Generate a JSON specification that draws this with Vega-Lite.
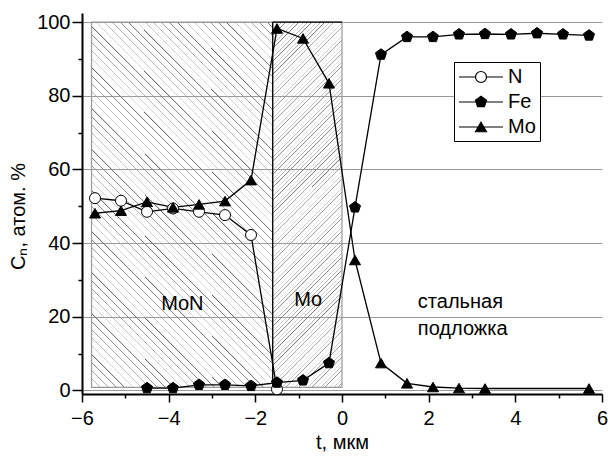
{
"$schema": "https://vega.github.io/schema/vega-lite/v6.json",
"width": 520, "height": 381,
"autosize": {"type": "none"},
"padding": {"left": 82, "top": 13, "right": 6, "bottom": 65},
"background": "white",
"config": {
  "view": {"stroke": null},
  "font": "Liberation Sans",
  "axis": {"labelFont": "Liberation Sans", "labelFontSize": 20, "labelColor": "black", "titleFont": "Liberation Sans", "titleFontSize": 20, "titleFontWeight": "normal", "titleColor": "black", "domainColor": "black", "domainWidth": 2, "tickColor": "black", "tickWidth": 1.5, "gridColor": "#999", "gridWidth": 1, "labelOverlap": false, "labelFlush": false}
},
"datasets": {
  "pts": [
    {"el":"N","t":-5.7,"c":52.2},{"el":"N","t":-5.1,"c":51.5},{"el":"N","t":-4.5,"c":48.5},{"el":"N","t":-3.9,"c":49.4},{"el":"N","t":-3.3,"c":48.5},{"el":"N","t":-2.7,"c":47.6},{"el":"N","t":-2.1,"c":42.2},{"el":"N","t":-1.5,"c":0.3},
    {"el":"Fe","t":-4.5,"c":0.6},{"el":"Fe","t":-3.9,"c":0.6},{"el":"Fe","t":-3.3,"c":1.5},{"el":"Fe","t":-2.7,"c":1.5},{"el":"Fe","t":-2.1,"c":1.2},{"el":"Fe","t":-1.5,"c":2.1},{"el":"Fe","t":-0.9,"c":2.7},{"el":"Fe","t":-0.3,"c":7.4},{"el":"Fe","t":0.3,"c":49.7},{"el":"Fe","t":0.9,"c":91.2},{"el":"Fe","t":1.5,"c":96.0},{"el":"Fe","t":2.1,"c":96.0},{"el":"Fe","t":2.7,"c":96.7},{"el":"Fe","t":3.3,"c":96.8},{"el":"Fe","t":3.9,"c":96.7},{"el":"Fe","t":4.5,"c":97.0},{"el":"Fe","t":5.1,"c":96.7},{"el":"Fe","t":5.7,"c":96.4},
    {"el":"Mo","t":-5.7,"c":48.1},{"el":"Mo","t":-5.1,"c":48.8},{"el":"Mo","t":-4.5,"c":51.2},{"el":"Mo","t":-3.9,"c":49.7},{"el":"Mo","t":-3.3,"c":50.5},{"el":"Mo","t":-2.7,"c":51.4},{"el":"Mo","t":-2.1,"c":57.1},{"el":"Mo","t":-1.5,"c":98.3},{"el":"Mo","t":-0.9,"c":95.6},{"el":"Mo","t":-0.3,"c":83.4},{"el":"Mo","t":0.3,"c":35.4},{"el":"Mo","t":0.9,"c":7.4},{"el":"Mo","t":1.5,"c":1.9},{"el":"Mo","t":2.1,"c":0.9},{"el":"Mo","t":2.7,"c":0.6},{"el":"Mo","t":3.3,"c":0.5},{"el":"Mo","t":5.7,"c":0.5}
  ],
  "regions": [
    {"region":"MoN","t":-5.78,"t_end":-1.6,"c":0.8,"c_end":100},
    {"region":"Mo","t":-1.6,"t_end":0,"c":0.8,"c_end":100}
  ],
  "border": [{"t":-1.6,"c":0.4,"c_end":100}],
  "topedge": [{"t":-1.6,"t_end":0,"c":100}],
  "labels": [
    {"txt":"MoN","t":-4.17,"c":21.8},
    {"txt":"Mo","t":-1.1,"c":22.8},
    {"txt":"стальная","t":1.75,"c":22.4},
    {"txt":"подложка","t":1.75,"c":15.1}
  ],
  "legend": [{"el":"N"},{"el":"Fe"},{"el":"Mo"}]
},
"encoding": {
  "x": {"field":"t","type":"quantitative","scale":{"domain":[-6,6],"nice":false,"zero":false},
        "axis":{"values":[-6,-5,-4,-3,-2,-1,0,1,2,3,4,5,6],"labelExpr":"datum.value % 2 === 0 ? datum.label : ''","tickSize":{"condition":{"test":"datum.value % 2 === 0","value":8},"value":4},"grid":false,"title":"t, мкм","titlePadding":4,"labelPadding":6}},
  "y": {"field":"c","type":"quantitative","scale":{"domain":[-1,102.5],"nice":false,"zero":false},
        "axis":{"values":[0,10,20,30,40,50,60,70,80,90,100],"labelExpr":"datum.value % 20 === 0 ? datum.label : ''","tickSize":{"condition":{"test":"datum.value % 20 === 0","value":10},"value":4},"grid":true,"gridOpacity":{"condition":{"test":"datum.value % 20 === 0","value":1},"value":0},"title":"Cₙ, атом. %","titlePadding":8,"titleY":203,"labelPadding":2}}
},
"layer": [
  {"data":{"name":"regions"},"transform":[{"filter":"datum.region === 'MoN'"}],
   "mark":{"type":"rect","stroke":"#999","strokeWidth":1.2,"fill":{"gradient":"linear","x1":0,"y1":1,"x2":0.597,"y2":-0.2,"stops":[
{"offset":0,"color":"#666"},{"offset":0.0035,"color":"#fff0"},{"offset":0.015,"color":"#fff0"},
{"offset":0.015,"color":"#666"},{"offset":0.0185,"color":"#fff0"},{"offset":0.03,"color":"#fff0"},
{"offset":0.03,"color":"#666"},{"offset":0.0335,"color":"#fff0"},{"offset":0.045,"color":"#fff0"},
{"offset":0.045,"color":"#666"},{"offset":0.0485,"color":"#fff0"},{"offset":0.06,"color":"#fff0"},
{"offset":0.06,"color":"#666"},{"offset":0.0635,"color":"#fff0"},{"offset":0.075,"color":"#fff0"},
{"offset":0.075,"color":"#666"},{"offset":0.0785,"color":"#fff0"},{"offset":0.09,"color":"#fff0"},
{"offset":0.09,"color":"#666"},{"offset":0.0935,"color":"#fff0"},{"offset":0.105,"color":"#fff0"},
{"offset":0.105,"color":"#666"},{"offset":0.1085,"color":"#fff0"},{"offset":0.12,"color":"#fff0"},
{"offset":0.12,"color":"#666"},{"offset":0.1235,"color":"#fff0"},{"offset":0.135,"color":"#fff0"},
{"offset":0.135,"color":"#666"},{"offset":0.1385,"color":"#fff0"},{"offset":0.15,"color":"#fff0"},
{"offset":0.15,"color":"#666"},{"offset":0.1535,"color":"#fff0"},{"offset":0.165,"color":"#fff0"},
{"offset":0.165,"color":"#666"},{"offset":0.1685,"color":"#fff0"},{"offset":0.18,"color":"#fff0"},
{"offset":0.18,"color":"#666"},{"offset":0.1835,"color":"#fff0"},{"offset":0.195,"color":"#fff0"},
{"offset":0.195,"color":"#666"},{"offset":0.1985,"color":"#fff0"},{"offset":0.21,"color":"#fff0"},
{"offset":0.21,"color":"#666"},{"offset":0.2135,"color":"#fff0"},{"offset":0.225,"color":"#fff0"},
{"offset":0.225,"color":"#666"},{"offset":0.2285,"color":"#fff0"},{"offset":0.24,"color":"#fff0"},
{"offset":0.24,"color":"#666"},{"offset":0.2435,"color":"#fff0"},{"offset":0.255,"color":"#fff0"},
{"offset":0.255,"color":"#666"},{"offset":0.2585,"color":"#fff0"},{"offset":0.27,"color":"#fff0"},
{"offset":0.27,"color":"#666"},{"offset":0.2735,"color":"#fff0"},{"offset":0.285,"color":"#fff0"},
{"offset":0.285,"color":"#666"},{"offset":0.2885,"color":"#fff0"},{"offset":0.3,"color":"#fff0"},
{"offset":0.3,"color":"#666"},{"offset":0.3035,"color":"#fff0"},{"offset":0.315,"color":"#fff0"},
{"offset":0.315,"color":"#666"},{"offset":0.3185,"color":"#fff0"},{"offset":0.33,"color":"#fff0"},
{"offset":0.33,"color":"#666"},{"offset":0.3335,"color":"#fff0"},{"offset":0.345,"color":"#fff0"},
{"offset":0.345,"color":"#666"},{"offset":0.3485,"color":"#fff0"},{"offset":0.36,"color":"#fff0"},
{"offset":0.36,"color":"#666"},{"offset":0.3635,"color":"#fff0"},{"offset":0.375,"color":"#fff0"},
{"offset":0.375,"color":"#666"},{"offset":0.3785,"color":"#fff0"},{"offset":0.39,"color":"#fff0"},
{"offset":0.39,"color":"#666"},{"offset":0.3935,"color":"#fff0"},{"offset":0.405,"color":"#fff0"},
{"offset":0.405,"color":"#666"},{"offset":0.4085,"color":"#fff0"},{"offset":0.42,"color":"#fff0"},
{"offset":0.42,"color":"#666"},{"offset":0.4235,"color":"#fff0"},{"offset":0.435,"color":"#fff0"},
{"offset":0.435,"color":"#666"},{"offset":0.4385,"color":"#fff0"},{"offset":0.45,"color":"#fff0"},
{"offset":0.45,"color":"#666"},{"offset":0.4535,"color":"#fff0"},{"offset":0.465,"color":"#fff0"},
{"offset":0.465,"color":"#666"},{"offset":0.4685,"color":"#fff0"},{"offset":0.48,"color":"#fff0"},
{"offset":0.48,"color":"#666"},{"offset":0.4835,"color":"#fff0"},{"offset":0.495,"color":"#fff0"},
{"offset":0.495,"color":"#666"},{"offset":0.4985,"color":"#fff0"},{"offset":0.51,"color":"#fff0"},
{"offset":0.51,"color":"#666"},{"offset":0.5135,"color":"#fff0"},{"offset":0.525,"color":"#fff0"},
{"offset":0.525,"color":"#666"},{"offset":0.5285,"color":"#fff0"},{"offset":0.54,"color":"#fff0"},
{"offset":0.54,"color":"#666"},{"offset":0.5435,"color":"#fff0"},{"offset":0.555,"color":"#fff0"},
{"offset":0.555,"color":"#666"},{"offset":0.5585,"color":"#fff0"},{"offset":0.57,"color":"#fff0"},
{"offset":0.57,"color":"#666"},{"offset":0.5735,"color":"#fff0"},{"offset":0.585,"color":"#fff0"},
{"offset":0.585,"color":"#666"},{"offset":0.5885,"color":"#fff0"},{"offset":0.6,"color":"#fff0"},
{"offset":0.6,"color":"#666"},{"offset":0.6035,"color":"#fff0"},{"offset":0.615,"color":"#fff0"},
{"offset":0.615,"color":"#666"},{"offset":0.6185,"color":"#fff0"},{"offset":0.63,"color":"#fff0"},
{"offset":0.63,"color":"#666"},{"offset":0.6335,"color":"#fff0"},{"offset":0.645,"color":"#fff0"},
{"offset":0.645,"color":"#666"},{"offset":0.6485,"color":"#fff0"},{"offset":0.66,"color":"#fff0"},
{"offset":0.66,"color":"#666"},{"offset":0.6635,"color":"#fff0"},{"offset":0.675,"color":"#fff0"},
{"offset":0.675,"color":"#666"},{"offset":0.6785,"color":"#fff0"},{"offset":0.69,"color":"#fff0"},
{"offset":0.69,"color":"#666"},{"offset":0.6935,"color":"#fff0"},{"offset":0.705,"color":"#fff0"},
{"offset":0.705,"color":"#666"},{"offset":0.7085,"color":"#fff0"},{"offset":0.72,"color":"#fff0"},
{"offset":0.72,"color":"#666"},{"offset":0.7235,"color":"#fff0"},{"offset":0.735,"color":"#fff0"},
{"offset":0.735,"color":"#666"},{"offset":0.7385,"color":"#fff0"},{"offset":0.75,"color":"#fff0"},
{"offset":0.75,"color":"#666"},{"offset":0.7535,"color":"#fff0"},{"offset":0.765,"color":"#fff0"},
{"offset":0.765,"color":"#666"},{"offset":0.7685,"color":"#fff0"},{"offset":0.78,"color":"#fff0"},
{"offset":0.78,"color":"#666"},{"offset":0.7835,"color":"#fff0"},{"offset":0.795,"color":"#fff0"},
{"offset":0.795,"color":"#666"},{"offset":0.7985,"color":"#fff0"},{"offset":0.81,"color":"#fff0"},
{"offset":0.81,"color":"#666"},{"offset":0.8135,"color":"#fff0"},{"offset":0.825,"color":"#fff0"},
{"offset":0.825,"color":"#666"},{"offset":0.8285,"color":"#fff0"},{"offset":0.84,"color":"#fff0"},
{"offset":0.84,"color":"#666"},{"offset":0.8435,"color":"#fff0"},{"offset":0.855,"color":"#fff0"},
{"offset":0.855,"color":"#666"},{"offset":0.8585,"color":"#fff0"},{"offset":0.87,"color":"#fff0"},
{"offset":0.87,"color":"#666"},{"offset":0.8735,"color":"#fff0"},{"offset":0.885,"color":"#fff0"},
{"offset":0.885,"color":"#666"},{"offset":0.8885,"color":"#fff0"},{"offset":0.9,"color":"#fff0"},
{"offset":0.9,"color":"#666"},{"offset":0.9035,"color":"#fff0"},{"offset":0.915,"color":"#fff0"},
{"offset":0.915,"color":"#666"},{"offset":0.9185,"color":"#fff0"},{"offset":0.93,"color":"#fff0"},
{"offset":0.93,"color":"#666"},{"offset":0.9335,"color":"#fff0"},{"offset":0.945,"color":"#fff0"},
{"offset":0.945,"color":"#666"},{"offset":0.9485,"color":"#fff0"},{"offset":0.96,"color":"#fff0"},
{"offset":0.96,"color":"#666"},{"offset":0.9635,"color":"#fff0"},{"offset":0.975,"color":"#fff0"},
{"offset":0.975,"color":"#666"},{"offset":0.9785,"color":"#fff0"},{"offset":0.99,"color":"#fff0"},
{"offset":0.99,"color":"#666"},{"offset":0.9935,"color":"#fff0"},{"offset":1,"color":"#fff0"}
]}},
   "encoding":{"x2":{"field":"t_end"},"y2":{"field":"c_end"}}},
  {"data":{"name":"regions"},"transform":[{"filter":"datum.region === 'Mo'"}],
   "mark":{"type":"rect","stroke":"#999","strokeWidth":1.2,"fill":{"gradient":"linear","x1":0,"y1":0,"x2":0.218,"y2":1.148,"stops":[
{"offset":0,"color":"#777"},{"offset":0.0035,"color":"#fff0"},{"offset":0.01,"color":"#fff0"},
{"offset":0.01,"color":"#777"},{"offset":0.0135,"color":"#fff0"},{"offset":0.02,"color":"#fff0"},
{"offset":0.02,"color":"#777"},{"offset":0.0235,"color":"#fff0"},{"offset":0.03,"color":"#fff0"},
{"offset":0.03,"color":"#777"},{"offset":0.0335,"color":"#fff0"},{"offset":0.04,"color":"#fff0"},
{"offset":0.04,"color":"#777"},{"offset":0.0435,"color":"#fff0"},{"offset":0.05,"color":"#fff0"},
{"offset":0.05,"color":"#777"},{"offset":0.0535,"color":"#fff0"},{"offset":0.06,"color":"#fff0"},
{"offset":0.06,"color":"#777"},{"offset":0.0635,"color":"#fff0"},{"offset":0.07,"color":"#fff0"},
{"offset":0.07,"color":"#777"},{"offset":0.0735,"color":"#fff0"},{"offset":0.08,"color":"#fff0"},
{"offset":0.08,"color":"#777"},{"offset":0.0835,"color":"#fff0"},{"offset":0.09,"color":"#fff0"},
{"offset":0.09,"color":"#777"},{"offset":0.0935,"color":"#fff0"},{"offset":0.1,"color":"#fff0"},
{"offset":0.1,"color":"#777"},{"offset":0.1035,"color":"#fff0"},{"offset":0.11,"color":"#fff0"},
{"offset":0.11,"color":"#777"},{"offset":0.1135,"color":"#fff0"},{"offset":0.12,"color":"#fff0"},
{"offset":0.12,"color":"#777"},{"offset":0.1235,"color":"#fff0"},{"offset":0.13,"color":"#fff0"},
{"offset":0.13,"color":"#777"},{"offset":0.1335,"color":"#fff0"},{"offset":0.14,"color":"#fff0"},
{"offset":0.14,"color":"#777"},{"offset":0.1435,"color":"#fff0"},{"offset":0.15,"color":"#fff0"},
{"offset":0.15,"color":"#777"},{"offset":0.1535,"color":"#fff0"},{"offset":0.16,"color":"#fff0"},
{"offset":0.16,"color":"#777"},{"offset":0.1635,"color":"#fff0"},{"offset":0.17,"color":"#fff0"},
{"offset":0.17,"color":"#777"},{"offset":0.1735,"color":"#fff0"},{"offset":0.18,"color":"#fff0"},
{"offset":0.18,"color":"#777"},{"offset":0.1835,"color":"#fff0"},{"offset":0.19,"color":"#fff0"},
{"offset":0.19,"color":"#777"},{"offset":0.1935,"color":"#fff0"},{"offset":0.2,"color":"#fff0"},
{"offset":0.2,"color":"#777"},{"offset":0.2035,"color":"#fff0"},{"offset":0.21,"color":"#fff0"},
{"offset":0.21,"color":"#777"},{"offset":0.2135,"color":"#fff0"},{"offset":0.22,"color":"#fff0"},
{"offset":0.22,"color":"#777"},{"offset":0.2235,"color":"#fff0"},{"offset":0.23,"color":"#fff0"},
{"offset":0.23,"color":"#777"},{"offset":0.2335,"color":"#fff0"},{"offset":0.24,"color":"#fff0"},
{"offset":0.24,"color":"#777"},{"offset":0.2435,"color":"#fff0"},{"offset":0.25,"color":"#fff0"},
{"offset":0.25,"color":"#777"},{"offset":0.2535,"color":"#fff0"},{"offset":0.26,"color":"#fff0"},
{"offset":0.26,"color":"#777"},{"offset":0.2635,"color":"#fff0"},{"offset":0.27,"color":"#fff0"},
{"offset":0.27,"color":"#777"},{"offset":0.2735,"color":"#fff0"},{"offset":0.28,"color":"#fff0"},
{"offset":0.28,"color":"#777"},{"offset":0.2835,"color":"#fff0"},{"offset":0.29,"color":"#fff0"},
{"offset":0.29,"color":"#777"},{"offset":0.2935,"color":"#fff0"},{"offset":0.3,"color":"#fff0"},
{"offset":0.3,"color":"#777"},{"offset":0.3035,"color":"#fff0"},{"offset":0.31,"color":"#fff0"},
{"offset":0.31,"color":"#777"},{"offset":0.3135,"color":"#fff0"},{"offset":0.32,"color":"#fff0"},
{"offset":0.32,"color":"#777"},{"offset":0.3235,"color":"#fff0"},{"offset":0.33,"color":"#fff0"},
{"offset":0.33,"color":"#777"},{"offset":0.3335,"color":"#fff0"},{"offset":0.34,"color":"#fff0"},
{"offset":0.34,"color":"#777"},{"offset":0.3435,"color":"#fff0"},{"offset":0.35,"color":"#fff0"},
{"offset":0.35,"color":"#777"},{"offset":0.3535,"color":"#fff0"},{"offset":0.36,"color":"#fff0"},
{"offset":0.36,"color":"#777"},{"offset":0.3635,"color":"#fff0"},{"offset":0.37,"color":"#fff0"},
{"offset":0.37,"color":"#777"},{"offset":0.3735,"color":"#fff0"},{"offset":0.38,"color":"#fff0"},
{"offset":0.38,"color":"#777"},{"offset":0.3835,"color":"#fff0"},{"offset":0.39,"color":"#fff0"},
{"offset":0.39,"color":"#777"},{"offset":0.3935,"color":"#fff0"},{"offset":0.4,"color":"#fff0"},
{"offset":0.4,"color":"#777"},{"offset":0.4035,"color":"#fff0"},{"offset":0.41,"color":"#fff0"},
{"offset":0.41,"color":"#777"},{"offset":0.4135,"color":"#fff0"},{"offset":0.42,"color":"#fff0"},
{"offset":0.42,"color":"#777"},{"offset":0.4235,"color":"#fff0"},{"offset":0.43,"color":"#fff0"},
{"offset":0.43,"color":"#777"},{"offset":0.4335,"color":"#fff0"},{"offset":0.44,"color":"#fff0"},
{"offset":0.44,"color":"#777"},{"offset":0.4435,"color":"#fff0"},{"offset":0.45,"color":"#fff0"},
{"offset":0.45,"color":"#777"},{"offset":0.4535,"color":"#fff0"},{"offset":0.46,"color":"#fff0"},
{"offset":0.46,"color":"#777"},{"offset":0.4635,"color":"#fff0"},{"offset":0.47,"color":"#fff0"},
{"offset":0.47,"color":"#777"},{"offset":0.4735,"color":"#fff0"},{"offset":0.48,"color":"#fff0"},
{"offset":0.48,"color":"#777"},{"offset":0.4835,"color":"#fff0"},{"offset":0.49,"color":"#fff0"},
{"offset":0.49,"color":"#777"},{"offset":0.4935,"color":"#fff0"},{"offset":0.5,"color":"#fff0"},
{"offset":0.5,"color":"#777"},{"offset":0.5035,"color":"#fff0"},{"offset":0.51,"color":"#fff0"},
{"offset":0.51,"color":"#777"},{"offset":0.5135,"color":"#fff0"},{"offset":0.52,"color":"#fff0"},
{"offset":0.52,"color":"#777"},{"offset":0.5235,"color":"#fff0"},{"offset":0.53,"color":"#fff0"},
{"offset":0.53,"color":"#777"},{"offset":0.5335,"color":"#fff0"},{"offset":0.54,"color":"#fff0"},
{"offset":0.54,"color":"#777"},{"offset":0.5435,"color":"#fff0"},{"offset":0.55,"color":"#fff0"},
{"offset":0.55,"color":"#777"},{"offset":0.5535,"color":"#fff0"},{"offset":0.56,"color":"#fff0"},
{"offset":0.56,"color":"#777"},{"offset":0.5635,"color":"#fff0"},{"offset":0.57,"color":"#fff0"},
{"offset":0.57,"color":"#777"},{"offset":0.5735,"color":"#fff0"},{"offset":0.58,"color":"#fff0"},
{"offset":0.58,"color":"#777"},{"offset":0.5835,"color":"#fff0"},{"offset":0.59,"color":"#fff0"},
{"offset":0.59,"color":"#777"},{"offset":0.5935,"color":"#fff0"},{"offset":0.6,"color":"#fff0"},
{"offset":0.6,"color":"#777"},{"offset":0.6035,"color":"#fff0"},{"offset":0.61,"color":"#fff0"},
{"offset":0.61,"color":"#777"},{"offset":0.6135,"color":"#fff0"},{"offset":0.62,"color":"#fff0"},
{"offset":0.62,"color":"#777"},{"offset":0.6235,"color":"#fff0"},{"offset":0.63,"color":"#fff0"},
{"offset":0.63,"color":"#777"},{"offset":0.6335,"color":"#fff0"},{"offset":0.64,"color":"#fff0"},
{"offset":0.64,"color":"#777"},{"offset":0.6435,"color":"#fff0"},{"offset":0.65,"color":"#fff0"},
{"offset":0.65,"color":"#777"},{"offset":0.6535,"color":"#fff0"},{"offset":0.66,"color":"#fff0"},
{"offset":0.66,"color":"#777"},{"offset":0.6635,"color":"#fff0"},{"offset":0.67,"color":"#fff0"},
{"offset":0.67,"color":"#777"},{"offset":0.6735,"color":"#fff0"},{"offset":0.68,"color":"#fff0"},
{"offset":0.68,"color":"#777"},{"offset":0.6835,"color":"#fff0"},{"offset":0.69,"color":"#fff0"},
{"offset":0.69,"color":"#777"},{"offset":0.6935,"color":"#fff0"},{"offset":0.7,"color":"#fff0"},
{"offset":0.7,"color":"#777"},{"offset":0.7035,"color":"#fff0"},{"offset":0.71,"color":"#fff0"},
{"offset":0.71,"color":"#777"},{"offset":0.7135,"color":"#fff0"},{"offset":0.72,"color":"#fff0"},
{"offset":0.72,"color":"#777"},{"offset":0.7235,"color":"#fff0"},{"offset":0.73,"color":"#fff0"},
{"offset":0.73,"color":"#777"},{"offset":0.7335,"color":"#fff0"},{"offset":0.74,"color":"#fff0"},
{"offset":0.74,"color":"#777"},{"offset":0.7435,"color":"#fff0"},{"offset":0.75,"color":"#fff0"},
{"offset":0.75,"color":"#777"},{"offset":0.7535,"color":"#fff0"},{"offset":0.76,"color":"#fff0"},
{"offset":0.76,"color":"#777"},{"offset":0.7635,"color":"#fff0"},{"offset":0.77,"color":"#fff0"},
{"offset":0.77,"color":"#777"},{"offset":0.7735,"color":"#fff0"},{"offset":0.78,"color":"#fff0"},
{"offset":0.78,"color":"#777"},{"offset":0.7835,"color":"#fff0"},{"offset":0.79,"color":"#fff0"},
{"offset":0.79,"color":"#777"},{"offset":0.7935,"color":"#fff0"},{"offset":0.8,"color":"#fff0"},
{"offset":0.8,"color":"#777"},{"offset":0.8035,"color":"#fff0"},{"offset":0.81,"color":"#fff0"},
{"offset":0.81,"color":"#777"},{"offset":0.8135,"color":"#fff0"},{"offset":0.82,"color":"#fff0"},
{"offset":0.82,"color":"#777"},{"offset":0.8235,"color":"#fff0"},{"offset":0.83,"color":"#fff0"},
{"offset":0.83,"color":"#777"},{"offset":0.8335,"color":"#fff0"},{"offset":0.84,"color":"#fff0"},
{"offset":0.84,"color":"#777"},{"offset":0.8435,"color":"#fff0"},{"offset":0.85,"color":"#fff0"},
{"offset":0.85,"color":"#777"},{"offset":0.8535,"color":"#fff0"},{"offset":0.86,"color":"#fff0"},
{"offset":0.86,"color":"#777"},{"offset":0.8635,"color":"#fff0"},{"offset":0.87,"color":"#fff0"},
{"offset":0.87,"color":"#777"},{"offset":0.8735,"color":"#fff0"},{"offset":0.88,"color":"#fff0"},
{"offset":0.88,"color":"#777"},{"offset":0.8835,"color":"#fff0"},{"offset":0.89,"color":"#fff0"},
{"offset":0.89,"color":"#777"},{"offset":0.8935,"color":"#fff0"},{"offset":0.9,"color":"#fff0"},
{"offset":0.9,"color":"#777"},{"offset":0.9035,"color":"#fff0"},{"offset":0.91,"color":"#fff0"},
{"offset":0.91,"color":"#777"},{"offset":0.9135,"color":"#fff0"},{"offset":0.92,"color":"#fff0"},
{"offset":0.92,"color":"#777"},{"offset":0.9235,"color":"#fff0"},{"offset":0.93,"color":"#fff0"},
{"offset":0.93,"color":"#777"},{"offset":0.9335,"color":"#fff0"},{"offset":0.94,"color":"#fff0"},
{"offset":0.94,"color":"#777"},{"offset":0.9435,"color":"#fff0"},{"offset":0.95,"color":"#fff0"},
{"offset":0.95,"color":"#777"},{"offset":0.9535,"color":"#fff0"},{"offset":0.96,"color":"#fff0"},
{"offset":0.96,"color":"#777"},{"offset":0.9635,"color":"#fff0"},{"offset":0.97,"color":"#fff0"},
{"offset":0.97,"color":"#777"},{"offset":0.9735,"color":"#fff0"},{"offset":0.98,"color":"#fff0"},
{"offset":0.98,"color":"#777"},{"offset":0.9835,"color":"#fff0"},{"offset":0.99,"color":"#fff0"},
{"offset":0.99,"color":"#777"},{"offset":0.9935,"color":"#fff0"},{"offset":1,"color":"#fff0"}
]}},
   "encoding":{"x2":{"field":"t_end"},"y2":{"field":"c_end"}}},
  {"data":{"name":"border"},"mark":{"type":"rule","color":"black","strokeWidth":1.2},"encoding":{"y2":{"field":"c_end"}}},
  {"data":{"name":"topedge"},"mark":{"type":"rule","color":"black","strokeWidth":1.2},"encoding":{"x2":{"field":"t_end"}}},
  {"data":{"name":"pts"},"mark":{"type":"line","color":"black","strokeWidth":1.3},"encoding":{"detail":{"field":"el"}}},
  {"data":{"name":"pts"},"transform":[{"filter":"datum.el === 'N'"}],"mark":{"type":"point","shape":"circle","size":121,"filled":true,"fill":"white","stroke":"black","strokeWidth":1,"opacity":1}},
  {"data":{"name":"pts"},"transform":[{"filter":"datum.el === 'Fe'"}],"mark":{"type":"point","shape":"M0,-1L0.951,-0.309L0.588,0.809L-0.588,0.809L-0.951,-0.309Z","size":134,"filled":true,"fill":"black","stroke":"black","strokeWidth":1,"opacity":1}},
  {"data":{"name":"pts"},"transform":[{"filter":"datum.el === 'Mo'"}],"mark":{"type":"point","shape":"triangle-up","size":121,"filled":true,"fill":"black","stroke":"black","strokeWidth":1,"opacity":1}},
  {"data":{"name":"labels"},"mark":{"type":"text","align":"left","baseline":"alphabetic","font":"Liberation Sans","fontSize":20,"color":"black"},"encoding":{"text":{"field":"txt"}}},
  {"data":{"name":"legend"},"transform":[{"filter":"false"}],
   "mark":{"type":"point","filled":true,"stroke":"black","strokeWidth":1.2,"opacity":1},
   "encoding":{
     "shape":{"field":"el","type":"nominal","scale":{"domain":["N","Fe","Mo"],"range":["M-1,0L0.65,0M1.75,0L3.4,0M1.75,0A0.55,0.55,0,1,1,0.65,0A0.55,0.55,0,1,1,1.75,0Z","M-1,0L3.4,0M1.2,-0.58L1.752,-0.179L1.541,0.469L0.859,0.469L0.648,-0.179Z","M-1,0L3.4,0M1.2,-0.476L1.75,0.476L0.65,0.476Z"]},
       "legend":{"title":null,"orient":"none","legendX":372,"legendY":49,"symbolSize":400,"symbolStrokeColor":"black","symbolStrokeWidth":1.2,"symbolOpacity":1,"labelFont":"Liberation Sans","labelFontSize":20,"labelColor":"black","labelOffset":28,"padding":4,"rowPadding":4,"strokeColor":"black","fillColor":"white","cornerRadius":0,
         "encode":{"symbols":{"update":{"stroke":{"value":"black"},"strokeWidth":{"value":1.2},"opacity":{"value":1}}}}}},
     "fill":{"field":"el","type":"nominal","scale":{"domain":["N","Fe","Mo"],"range":["white","black","black"]},
       "legend":{"title":null,"orient":"none","legendX":372,"legendY":49,"symbolSize":400,"symbolStrokeColor":"black","symbolStrokeWidth":1.2,"symbolOpacity":1,"labelFont":"Liberation Sans","labelFontSize":20,"labelColor":"black","labelOffset":28,"padding":4,"rowPadding":4,"strokeColor":"black","fillColor":"white","cornerRadius":0,
         "encode":{"symbols":{"update":{"stroke":{"value":"black"},"strokeWidth":{"value":1.2},"opacity":{"value":1}}}}}}
   }}
]
}
